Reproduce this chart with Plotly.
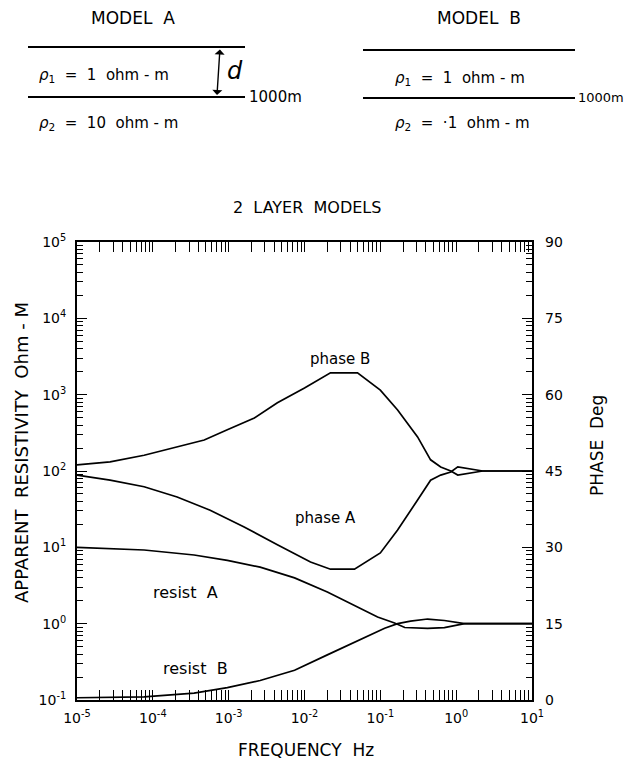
import plotly.graph_objects as go

# ---------------- data ----------------
decade_ticks = [1e-5, 1e-4, 1e-3, 1e-2, 1e-1, 1e0, 1e1]
decade_text = ["10<sup>-5</sup>", "10<sup>-4</sup>", "10<sup>-3</sup>", "10<sup>-2</sup>",
               "10<sup>-1</sup>", "10<sup>0</sup>", "10<sup>1</sup>"]
rho_ticks = [1e-1, 1e0, 1e1, 1e2, 1e3, 1e4, 1e5]
rho_text = ["10<sup>-1</sup>", "10<sup>0</sup>", "10<sup>1</sup>", "10<sup>2</sup>",
            "10<sup>3</sup>", "10<sup>4</sup>", "10<sup>5</sup>"]
phase_ticks = [0, 15, 30, 45, 60, 75, 90]

freq_phase_B = [1e-5, 2.73e-5, 7.67e-5, 2.09e-4, 4.76e-4, 9.6e-4, 2.18e-3, 4.39e-3, 1.0e-2,
                2.2e-2, 5.0e-2, 0.1, 0.169, 0.31, 0.46, 0.625, 0.85, 1.05, 2.24, 10]
phase_B = [46.2, 46.8, 48.1, 49.7, 51.1, 53.1, 55.4, 58.4, 61.3,
           64.3, 64.3, 60.9, 57.0, 51.7, 47.2, 45.8, 45.0, 44.2, 45.0, 45.0]

freq_phase_A = [1e-5, 2.73e-5, 7.67e-5, 2.09e-4, 5.7e-4, 1.6e-3, 4.39e-3, 1.2e-2, 2.2e-2,
                4.56e-2, 0.1, 0.169, 0.31, 0.46, 0.625, 0.85, 1.05, 2.24, 10]
phase_A = [44.2, 43.2, 41.9, 39.9, 37.3, 34.0, 30.5, 27.1, 25.7,
           25.7, 28.9, 33.4, 39.3, 43.2, 44.2, 44.8, 45.8, 45.0, 45.0]

freq_resist_A = [1e-5, 7.67e-5, 3.5e-4, 9.6e-4, 2.6e-3, 7.4e-3, 2.0e-2, 5.5e-2, 9.2e-2,
                 0.154, 0.21, 0.42, 0.70, 1.29, 10]
resist_A = [10, 9.23, 7.94, 6.76, 5.5, 3.98, 2.6, 1.6, 1.22,
            1.02, 0.89, 0.87, 0.89, 1.0, 1.0]

freq_resist_B = [1e-5, 7.67e-5, 3.5e-4, 9.6e-4, 2.6e-3, 7.4e-3, 2.0e-2, 5.5e-2, 0.114,
                 0.169, 0.25, 0.42, 0.70, 1.29, 10]
resist_B = [0.107, 0.11, 0.123, 0.145, 0.18, 0.245, 0.39, 0.62, 0.87,
            1.0, 1.08, 1.15, 1.1, 1.0, 1.0]

# ---------------- layout helpers ----------------
W, H = 626, 764
L, R, T, B = 77, 532, 242, 700
FONT = "DejaVu Sans"


def px(x):
    return (x - L) / (R - L)


def py(y):
    return (B - y) / (B - T)


line = dict(color="black", width=1.7)

fig = go.Figure()
fig.add_trace(go.Scatter(x=freq_resist_A, y=resist_A, mode="lines", line=line,
                         name="resist A", yaxis="y"))
fig.add_trace(go.Scatter(x=freq_resist_B, y=resist_B, mode="lines", line=line,
                         name="resist B", yaxis="y"))
fig.add_trace(go.Scatter(x=freq_phase_A, y=phase_A, mode="lines", line=line,
                         name="phase A", yaxis="y2"))
fig.add_trace(go.Scatter(x=freq_phase_B, y=phase_B, mode="lines", line=line,
                         name="phase B", yaxis="y2"))

tickfont = dict(family=FONT, size=14, color="black")
fig.update_layout(
    width=W, height=H,
    margin=dict(l=L, r=W - R, t=T, b=H - B, pad=0),
    paper_bgcolor="white", plot_bgcolor="white",
    showlegend=False,
    xaxis=dict(type="log", range=[-5, 1], tickvals=decade_ticks, ticktext=decade_text,
               ticks="inside", ticklen=10, tickwidth=1.3, tickcolor="black",
               showline=True, linecolor="black", linewidth=2, mirror="allticks",
               showgrid=False, zeroline=False, tickfont=tickfont, ticklabelstandoff=4,
               minor=dict(ticks="inside", ticklen=6, tickwidth=1.1, tickcolor="black",
                          dtick="D1", showgrid=False)),
    yaxis=dict(type="log", range=[-1, 5], tickvals=rho_ticks, ticktext=rho_text,
               ticks="inside", ticklen=10, tickwidth=1.3, tickcolor="black",
               showline=True, linecolor="black", linewidth=2, mirror="allticks",
               showgrid=False, zeroline=False, tickfont=tickfont, ticklabelstandoff=6,
               minor=dict(ticks="inside", ticklen=6, tickwidth=1.1, tickcolor="black",
                          dtick="D1", showgrid=False)),
    yaxis2=dict(overlaying="y", side="right", range=[0, 90], tickvals=phase_ticks,
                ticks="inside", ticklen=10, tickwidth=1.3, tickcolor="black",
                showline=False, showgrid=False, zeroline=False,
                tickfont=dict(family=FONT, size=14, color="black"),
                ticklabelstandoff=12),
)

ann = []


def text(x, y, s, size=13, angle=0, xanchor="center"):
    ann.append(dict(xref="paper", yref="paper", x=px(x), y=py(y), text=s,
                    showarrow=False, textangle=angle, xanchor=xanchor, yanchor="middle",
                    font=dict(family=FONT, size=size, color="black")))


# Titles and axis titles
text(307, 208, "2  LAYER  MODELS", 16)
text(306, 750, "FREQUENCY  Hz", 17)
text(21, 453, "APPARENT  RESISTIVITY  Ohm - M", 18, angle=-90)
text(597, 446, "PHASE  Deg", 17, angle=-90)

# Curve labels
text(340, 359, "phase B", 15)
text(325, 518, "phase A", 15)
text(185, 592, "resist  A", 16)
text(195, 668, "resist  B", 16)

# Model diagrams
text(133, 18, "MODEL  A", 17)
text(479, 18, "MODEL  B", 17)
text(37, 75, "<i>ρ</i><sub>1</sub>  =  1  ohm - m", 15, xanchor="left")
text(37, 124, "<i>ρ</i><sub>2</sub>  =  10  ohm - m", 15, xanchor="left")
text(393, 78, "<i>ρ</i><sub>1</sub>  =  1  ohm - m", 15, xanchor="left")
text(393, 124, "<i>ρ</i><sub>2</sub>  =  ·1  ohm - m", 15, xanchor="left")
text(247, 97, "1000m", 15, xanchor="left")
text(576, 97, "1000m", 13, xanchor="left")
text(235, 71, "<i>d</i>", 24)

# double-headed arrow for thickness d
ann.append(dict(xref="paper", yref="paper", axref="pixel", ayref="pixel",
                x=px(217), y=py(95), ax=3, ay=-47, text="",
                showarrow=True, arrowhead=1, arrowside="end+start", arrowsize=1.2,
                arrowwidth=1.4, arrowcolor="black"))
fig.update_layout(annotations=ann)

shapes = []
for (x0, x1, y) in [(28, 245, 47), (28, 245, 97), (363, 575, 50), (363, 575, 98)]:
    shapes.append(dict(type="line", xref="paper", yref="paper",
                       x0=px(x0), x1=px(x1), y0=py(y), y1=py(y),
                       line=dict(color="black", width=1.8)))
fig.update_layout(shapes=shapes)

fig.write_html("out.html")
